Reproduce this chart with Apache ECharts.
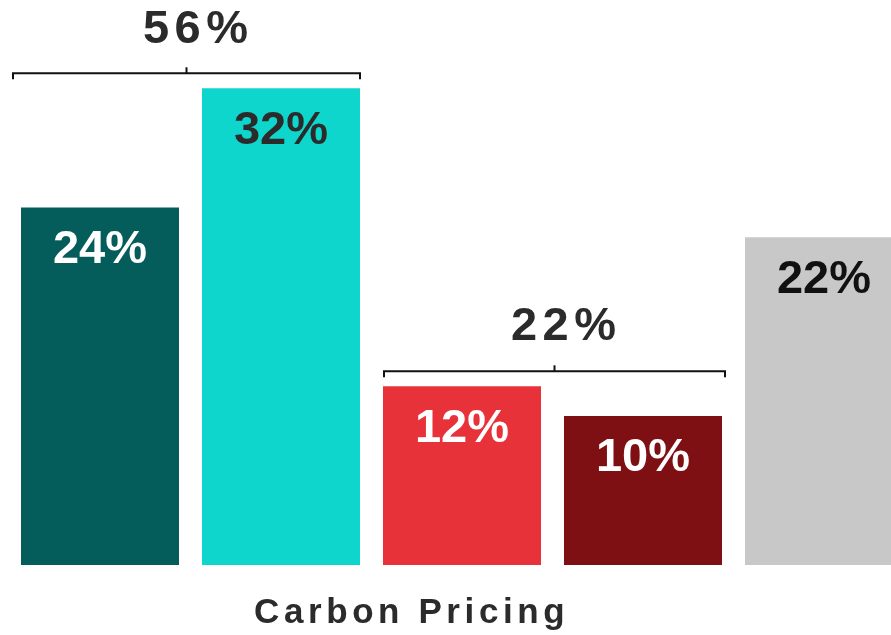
<!DOCTYPE html>
<html>
<head>
<meta charset="utf-8">
<script src="https://cdn.jsdelivr.net/npm/echarts@6/dist/echarts.min.js"></script>
<style>html,body{margin:0;padding:0;background:#fff}#c{width:891px;height:635px}</style>
</head>
<body>
<div id="c"></div>
<script>
// ---- data ----
const categories = ['Group 1', 'Group 2', 'Group 3', 'Group 4', 'Group 5'];
const values = [24, 32, 12, 10, 22];
const barColors = ['#045D5B', '#0ED6CC', '#E8323A', '#7E0F12', '#C8C8C8'];
const labelColors = ['#FFFFFF', '#2B2B2B', '#FFFFFF', '#FFFFFF', '#111111'];
const groupStart = [0, 2];
const groupEnd = [1, 3];
const bracketLevel = [33, 13];
const bracketLabelLevel = [35.9, 16];
const axisTitle = 'Carbon Pricing';

// ---- styles ----
const FONT = '"Liberation Sans", Arial, sans-serif';
const BAR_W = 158;
const bracketLeftPad = [8, -1];
const bracketRightPad = [0, 3];
const LABEL_SHIFT = 9;

function spaced(str, key) {
  return str.split('').map(ch => '{' + key + '|' + ch + '}').join('');
}

const bracketData = groupStart.map((s, i) => {
  let sum = 0;
  for (let k = s; k <= groupEnd[i]; k++) sum += values[k];
  return [s, groupEnd[i], bracketLevel[i], bracketLabelLevel[i], sum, i];
});

const chart = echarts.init(document.getElementById('c'));
chart.setOption({
  animation: false,
  backgroundColor: '#ffffff',
  grid: { left: 9.5, top: 43.5, width: 905, bottom: 70, containLabel: false, outerBoundsMode: 'none' },
  xAxis: {
    type: 'category', data: categories,
    axisLine: { show: false }, axisTick: { show: false }, axisLabel: { show: false },
    splitLine: { show: false }
  },
  yAxis: {
    type: 'value', min: 0, max: 35, show: false, splitLine: { show: false }
  },
  graphic: [{
    type: 'text', left: 411 - 157, top: 596,
    style: {
      text: spaced(axisTitle, 's'),
      rich: { s: { fontFamily: FONT, fontWeight: 'bold', fontSize: 35, fill: '#2B2B2B', padding: [0, 2.3, 0, 2.3] } }
    }
  }],
  series: [{
    type: 'bar',
    barWidth: BAR_W,
    data: values.map((v, i) => ({
      value: v,
      itemStyle: { color: barColors[i] },
      label: { color: labelColors[i] }
    })),
    label: {
      show: true, position: 'insideTop', distance: 19,
      formatter: p => p.value + '%',
      fontFamily: FONT, fontWeight: 'bold', fontSize: 47
    }
  }, {
    type: 'custom',
    data: bracketData,
    clip: false,
    renderItem: function (params, api) {
      const s = api.value(0), e = api.value(1), lvl = api.value(2), llvl = api.value(3), sum = api.value(4), idx = api.value(5);
      const ps = api.coord([s, lvl]);
      const pe = api.coord([e, lvl]);
      const left = ps[0] - BAR_W / 2 - bracketLeftPad[idx];
      const right = pe[0] + BAR_W / 2 + bracketRightPad[idx];
      const y = ps[1];
      const mid = (left + right) / 2;
      const ly = api.coord([s, llvl])[1];
      const stroke = { stroke: '#111', lineWidth: 2, fill: null };
      return {
        type: 'group',
        children: [
          { type: 'polyline', shape: { points: [[left, y + 6], [left, y], [right, y], [right, y + 6]] }, style: stroke },
          { type: 'line', shape: { x1: mid, y1: y, x2: mid, y2: y - 6 }, style: stroke },
          { type: 'text', x: mid + LABEL_SHIFT, y: ly,
            style: {
              text: spaced(sum + '%', 'b'), align: 'center', verticalAlign: 'middle',
              rich: { b: { fontFamily: FONT, fontWeight: 'bold', fontSize: 47, fill: '#2B2B2B', padding: [0, 2.7, 0, 2.7] } }
            } }
        ]
      };
    }
  }]
});
</script>
</body>
</html>
